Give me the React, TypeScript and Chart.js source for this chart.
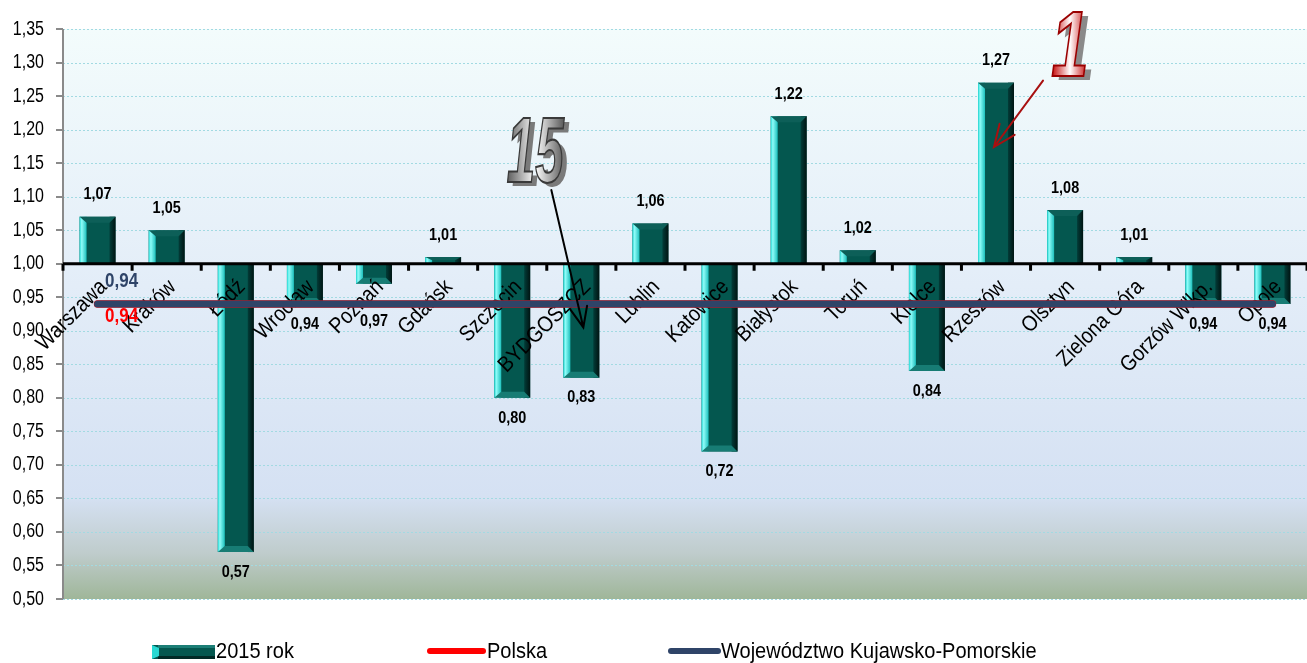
import React, { useEffect, useRef } from "react";
import { Chart, registerables } from "chart.js";

Chart.register(...registerables);

const categories = [
  "Warszawa", "Kraków", "Łódź", "Wrocław", "Poznań", "Gdańsk", "Szczecin", "BYDGOSZCZ", "Lublin",
  "Katowice", "Białystok", "Toruń", "Kielce", "Rzeszów", "Olsztyn", "Zielona Góra", "Gorzów Wlkp.", "Opole",
];
const values2015 = [1.07, 1.05, 0.57, 0.94, 0.97, 1.01, 0.8, 0.83, 1.06, 0.72, 1.22, 1.02, 0.84, 1.27, 1.08, 1.01, 0.94, 0.94];
const polska = [0.94, 0.94, 0.94, 0.94, 0.94, 0.94, 0.94, 0.94, 0.94, 0.94, 0.94, 0.94, 0.94, 0.94, 0.94, 0.94, 0.94, 0.94];
const kujawskoPomorskie = [0.94, 0.94, 0.94, 0.94, 0.94, 0.94, 0.94, 0.94, 0.94, 0.94, 0.94, 0.94, 0.94, 0.94, 0.94, 0.94, 0.94, 0.94];
const yMin = 0.5;
const yMax = 1.35;
const yStep = 0.05;
const barBase = 1.0;
const legendLabels = ["2015 rok", "Polska", "Województwo Kujawsko-Pomorskie"];
const rank15 = "15";
const rank1 = "1";

const FONT = "'Liberation Sans', Arial, sans-serif";
const fmt = (v: number) => v.toFixed(2).replace(".", ",");

function txt(
  ctx: CanvasRenderingContext2D, s: string, x: number, y: number,
  o: { font: string; color?: string; align?: CanvasTextAlign; baseline?: CanvasTextBaseline; sx?: number; rot?: number }
) {
  ctx.save();
  ctx.translate(x, y);
  if (o.rot) ctx.rotate(o.rot);
  ctx.scale(o.sx ?? 0.85, 1);
  ctx.font = o.font;
  ctx.fillStyle = o.color ?? "#000";
  ctx.textAlign = o.align ?? "left";
  ctx.textBaseline = o.baseline ?? "middle";
  ctx.fillText(s, 0, 0);
  ctx.restore();
}

function drawArrow(ctx: CanvasRenderingContext2D, x1: number, y1: number, x2: number, y2: number, color: string, w: number, head: number) {
  const a = Math.atan2(y2 - y1, x2 - x1);
  ctx.save();
  ctx.strokeStyle = color;
  ctx.lineWidth = w;
  ctx.lineCap = "round";
  ctx.beginPath();
  ctx.moveTo(x1, y1);
  ctx.lineTo(x2, y2);
  ctx.moveTo(x2 - head * Math.cos(a - 0.4), y2 - head * Math.sin(a - 0.4));
  ctx.lineTo(x2, y2);
  ctx.lineTo(x2 - head * Math.cos(a + 0.4), y2 - head * Math.sin(a + 0.4));
  ctx.stroke();
  ctx.restore();
}

function drawFancyText(ctx: CanvasRenderingContext2D, text: string, cx: number, cy: number, sx: number, c1: string, c2: string, stroke: string, shadow: string) {
  ctx.save();
  ctx.translate(cx, cy);
  ctx.scale(sx, 1.45);
  ctx.font = `italic bold 64px ${FONT}`;
  ctx.textAlign = "center";
  ctx.textBaseline = "middle";
  ctx.fillStyle = shadow;
  ctx.fillText(text, 6, 2.5);
  const w = ctx.measureText(text).width;
  const g = ctx.createLinearGradient(-w / 2, 0, w / 2, 0);
  g.addColorStop(0, c1);
  g.addColorStop(0.5, c2);
  g.addColorStop(1, c1);
  ctx.fillStyle = g;
  ctx.fillText(text, 0, 0);
  ctx.lineWidth = 1.5;
  ctx.strokeStyle = stroke;
  ctx.strokeText(text, 0, 0);
  ctx.restore();
}

const customPlugin = {
  id: "custom",
  beforeDatasetsDraw(chart: any) {
    const { ctx, chartArea: a, scales } = chart;
    const y = scales.y;
    ctx.save();
    const g = ctx.createLinearGradient(0, a.top, 0, a.bottom);
    g.addColorStop(0, "#f3fcfc");
    g.addColorStop(0.45, "#e3edf8");
    g.addColorStop(0.82, "#d5e1f3");
    g.addColorStop(0.92, "#bfcccc");
    g.addColorStop(1, "#9fb699");
    ctx.fillStyle = g;
    ctx.fillRect(a.left, a.top, a.right - a.left, a.bottom - a.top);
    ctx.strokeStyle = "#a2dae2";
    ctx.lineWidth = 1;
    ctx.setLineDash([2, 2]);
    for (let v = yMin; v <= yMax + 1e-9; v += yStep) {
      const py = Math.round(y.getPixelForValue(v)) + 0.5;
      ctx.beginPath();
      ctx.moveTo(a.left, py);
      ctx.lineTo(a.right, py);
      ctx.stroke();
    }
    ctx.setLineDash([]);
    ctx.strokeStyle = "#8a8a8a";
    ctx.lineWidth = 2;
    ctx.beginPath();
    ctx.moveTo(a.left, a.top);
    ctx.lineTo(a.left, a.bottom);
    for (let v = yMin; v <= yMax + 1e-9; v += yStep) {
      const py = Math.round(y.getPixelForValue(v));
      ctx.moveTo(a.left - 7, py);
      ctx.lineTo(a.left, py);
    }
    ctx.stroke();
    ctx.restore();
    for (let v = yMin; v <= yMax + 1e-9; v += yStep) {
      txt(ctx, fmt(v), a.left - 19, y.getPixelForValue(v), { font: `20px ${FONT}`, align: "right", sx: 0.8 });
    }
  },
  afterDatasetDraw(chart: any, args: any) {
    if (args.meta.type !== "bar") return;
    const { ctx, chartArea: a, scales } = chart;
    const x = scales.x;
    const y = scales.y;
    const y1 = y.getPixelForValue(barBase);
    ctx.save();
    args.meta.data.forEach((el: any) => {
      const L = el.x - el.width / 2;
      const R = el.x + el.width / 2;
      const T = Math.min(el.y, el.base);
      const B = Math.max(el.y, el.base);
      const up = el.y < el.base;
      const gl = ctx.createLinearGradient(L, 0, L + 7, 0);
      gl.addColorStop(0, "#22d8d4");
      gl.addColorStop(0.3, "#8ffcf8");
      gl.addColorStop(1, "#1cc0bc");
      ctx.fillStyle = gl;
      ctx.fillRect(L, T, 7, B - T);
      const gr = ctx.createLinearGradient(R - 6, 0, R, 0);
      gr.addColorStop(0, "#023c38");
      gr.addColorStop(1, "#001412");
      ctx.fillStyle = gr;
      ctx.fillRect(R - 6, T, 6, B - T);
      const h = Math.min(6, (B - T) / 2);
      ctx.beginPath();
      if (up) {
        ctx.moveTo(L, T); ctx.lineTo(R, T); ctx.lineTo(R - 6, T + h); ctx.lineTo(L + 7, T + h);
        ctx.fillStyle = "#0d5f58";
      } else {
        ctx.moveTo(L, B); ctx.lineTo(R, B); ctx.lineTo(R - 6, B - h); ctx.lineTo(L + 7, B - h);
        ctx.fillStyle = "#177c74";
      }
      ctx.closePath();
      ctx.fill();
    });
    ctx.strokeStyle = "#000";
    ctx.lineWidth = 3;
    ctx.beginPath();
    ctx.moveTo(a.left, y1);
    ctx.lineTo(a.right, y1);
    const step = (a.right - a.left) / categories.length;
    for (let i = 0; i <= categories.length; i++) {
      const px = x.getPixelForValue(i) - step / 2;
      ctx.moveTo(px, y1);
      ctx.lineTo(px, y1 + 7);
    }
    ctx.stroke();
    ctx.restore();
    categories.forEach((c, i) => {
      txt(ctx, c, x.getPixelForValue(i) + 6, y1 + 20, { font: `22px ${FONT}`, align: "right", sx: 0.88, rot: -Math.PI / 4 });
    });
    const lineY = y.getPixelForValue(kujawskoPomorskie[0]);
    args.meta.data.forEach((el: any, i: number) => {
      const v = values2015[i];
      let ly;
      if (v >= barBase) ly = el.y - 22;
      else {
        ly = el.y + 20;
        if (Math.abs(ly - lineY) < 16) ly = lineY + 17;
      }
      txt(ctx, fmt(v), el.x, ly, { font: `bold 17px ${FONT}`, align: "center", sx: 0.85 });
    });
    const x0 = x.getPixelForValue(0) + 24;
    txt(ctx, fmt(kujawskoPomorskie[0]), x0, y.getPixelForValue(kujawskoPomorskie[0]) - 22, { font: `bold 20px ${FONT}`, align: "center", color: "#2f4468", sx: 0.85 });
    txt(ctx, fmt(polska[0]), x0, y.getPixelForValue(polska[0]) + 13, { font: `bold 20px ${FONT}`, align: "center", color: "#ff0000", sx: 0.85 });
  },
  afterDraw(chart: any) {
    const { ctx, scales } = chart;
    const x = scales.x;
    const y = scales.y;
    const bx = x.getPixelForValue(7);
    drawFancyText(ctx, rank15, bx - 46, y.getPixelForValue(1.16), 0.8, "#5a5a5a", "#ffffff", "#3a3a3a", "#7a7a7a");
    drawArrow(ctx, bx - 30, y.getPixelForValue(1.11), bx + 2, y.getPixelForValue(0.905), "#000", 2, 22);
    const rx = x.getPixelForValue(13);
    drawFancyText(ctx, rank1, rx + 74, y.getPixelForValue(1.318), 1.05, "#c40000", "#ffffff", "#9a0000", "#8a8a8a");
    drawArrow(ctx, rx + 47, y.getPixelForValue(1.273), rx - 2, y.getPixelForValue(1.174), "#a81010", 2, 24);

    ctx.save();
    const ly = 652;
    ctx.fillStyle = "#04574f";
    ctx.fillRect(152, 645, 63, 14);
    ctx.fillStyle = "#1b7e76";
    ctx.fillRect(158, 645, 57, 3);
    ctx.fillStyle = "#012a26";
    ctx.fillRect(158, 656, 57, 3);
    ctx.fillStyle = "#28d8d2";
    ctx.beginPath();
    ctx.moveTo(152, 645); ctx.lineTo(159, 648); ctx.lineTo(159, 656); ctx.lineTo(152, 659);
    ctx.closePath();
    ctx.fill();
    ctx.lineCap = "round";
    ctx.lineWidth = 6;
    ctx.strokeStyle = "#ff0000";
    ctx.beginPath(); ctx.moveTo(430, ly - 1); ctx.lineTo(483, ly - 1); ctx.stroke();
    ctx.strokeStyle = "#2f4468";
    ctx.beginPath(); ctx.moveTo(671, ly - 1); ctx.lineTo(718, ly - 1); ctx.stroke();
    ctx.restore();
    const lf = { font: `22px ${FONT}`, sx: 0.91 };
    txt(ctx, legendLabels[0], 216, ly, lf);
    txt(ctx, legendLabels[1], 487, ly, lf);
    txt(ctx, legendLabels[2], 721, ly, lf);
  },
};

export default function App() {
  const ref = useRef<HTMLCanvasElement>(null);
  useEffect(() => {
    document.body.style.margin = "0";
    const chart = new Chart(ref.current as HTMLCanvasElement, {
      type: "bar",
      data: {
        labels: categories,
        datasets: [
          {
            type: "line",
            label: legendLabels[2],
            data: kujawskoPomorskie,
            borderColor: "#2f4468",
            borderWidth: 7,
            borderCapStyle: "round",
            pointRadius: 0,
            fill: false,
          } as any,
          {
            type: "line",
            label: legendLabels[1],
            data: polska,
            borderColor: "#ff0000",
            borderWidth: 7.5,
            borderCapStyle: "round",
            pointRadius: 0,
            fill: false,
          } as any,
          {
            type: "bar",
            label: legendLabels[0],
            data: values2015,
            base: barBase,
            backgroundColor: "#04574f",
            barPercentage: 0.52,
            categoryPercentage: 1,
          } as any,
        ],
      },
      options: {
        responsive: false,
        maintainAspectRatio: false,
        animation: false,
        layout: { padding: { top: 29, bottom: 64, left: 0, right: 0 } },
        plugins: { legend: { display: false }, tooltip: { enabled: false } },
        scales: {
          x: { display: false },
          y: {
            min: yMin,
            max: yMax,
            ticks: { stepSize: yStep, display: false },
            grid: { display: false, drawTicks: false },
            border: { display: false },
            afterFit: (s: any) => {
              s.width = 63;
            },
          },
        },
      } as any,
      plugins: [customPlugin],
    });
    return () => chart.destroy();
  }, []);
  return (
    <div style={{ width: 1307, height: 663 }}>
      <canvas ref={ref} width={1307} height={663} style={{ display: "block" }} />
    </div>
  );
}
